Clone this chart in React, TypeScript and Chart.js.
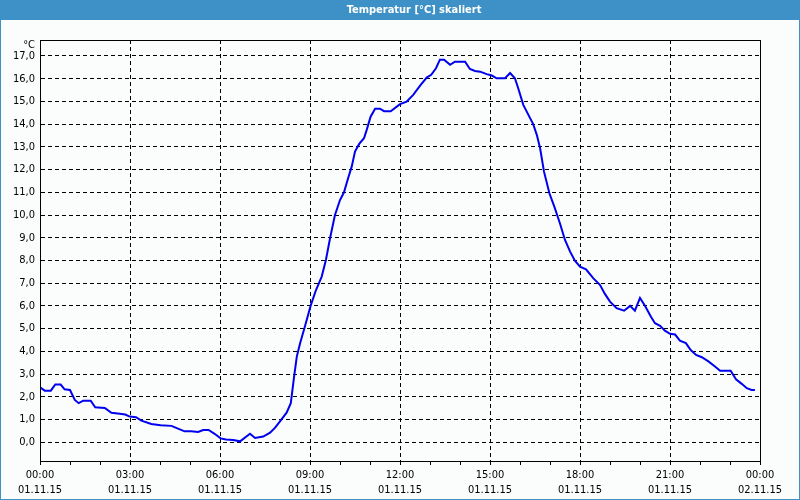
import React, { useEffect, useRef } from 'react';
import { Chart, registerables } from 'chart.js';

Chart.register(...registerables);

// Time of day in hours (01.11.15 00:00 = 0)
const hours = [
  0.0, 0.16, 0.36, 0.51, 0.69, 0.82, 1.0, 1.16, 1.29, 1.44, 1.69, 1.84, 2.16, 2.38, 2.66, 2.84, 2.99,
  3.2, 3.38, 3.71, 4.02, 4.38, 4.6, 4.82, 5.04, 5.27, 5.44, 5.62, 5.82, 6.02, 6.2, 6.44, 6.67,
  7.0, 7.17, 7.44, 7.67, 7.83, 8.0, 8.22, 8.36, 8.47, 8.56, 8.67, 8.83, 9.02, 9.2, 9.39, 9.53,
  9.67, 9.83, 10.0, 10.13, 10.27, 10.39, 10.5, 10.64, 10.8, 10.89, 11.02, 11.17, 11.33, 11.47,
  11.69, 12.0, 12.22, 12.44, 12.67, 12.89, 13.04, 13.2, 13.33, 13.47, 13.67, 13.83, 14.17, 14.33,
  14.5, 14.67, 14.89, 15.06, 15.22, 15.5, 15.67, 15.83, 15.94, 16.11, 16.28, 16.44, 16.56, 16.67,
  16.8, 16.98, 17.15, 17.33, 17.5, 17.67, 17.83, 18.0, 18.2, 18.44, 18.67, 18.83, 19.0, 19.22,
  19.47, 19.67, 19.83, 20.0, 20.17, 20.36, 20.5, 20.67, 20.83, 21.0, 21.17, 21.33, 21.53, 21.69,
  21.87, 22.06, 22.28, 22.5, 22.67, 23.02, 23.2, 23.39, 23.56, 23.72, 23.83,
];

// Temperature in °C
const temps = [
  2.42, 2.27, 2.27, 2.54, 2.54, 2.33, 2.3, 1.86, 1.72, 1.83, 1.83, 1.54, 1.51, 1.3, 1.25, 1.22, 1.13,
  1.1, 0.95, 0.8, 0.75, 0.72, 0.6, 0.48, 0.48, 0.45, 0.54, 0.54, 0.37, 0.17, 0.12, 0.1, 0.04,
  0.37, 0.19, 0.25, 0.42, 0.63, 0.92, 1.3, 1.72, 2.89, 3.77, 4.36, 5.09, 6.0, 6.7, 7.29, 8.02,
  8.99, 9.99, 10.66, 10.99, 11.62, 12.13, 12.79, 13.13, 13.38, 13.75, 14.33, 14.68, 14.68, 14.57,
  14.57, 14.88, 14.99, 15.29, 15.7, 16.05, 16.17, 16.46, 16.84, 16.84, 16.61, 16.75, 16.75, 16.43,
  16.34, 16.31, 16.2, 16.14, 16.02, 16.02, 16.25, 16.02, 15.58, 14.85, 14.41, 14.0, 13.53, 12.94,
  11.91, 10.96, 10.35, 9.64, 8.9, 8.39, 7.99, 7.73, 7.61, 7.22, 6.92, 6.53, 6.19, 5.9,
  5.79, 6.0, 5.79, 6.35, 6.0, 5.53, 5.24, 5.12, 4.91, 4.77, 4.74, 4.47, 4.36, 4.06,
  3.84, 3.74, 3.56, 3.33, 3.15, 3.15, 2.77, 2.57, 2.38, 2.3, 2.3,
];

const tickHours = [0, 3, 6, 9, 12, 15, 18, 21, 24];
const timeLabels = ['00:00', '03:00', '06:00', '09:00', '12:00', '15:00', '18:00', '21:00', '00:00'];
const dateLabels = ['01.11.15', '01.11.15', '01.11.15', '01.11.15', '01.11.15', '01.11.15', '01.11.15', '01.11.15', '02.11.15'];
const titleText = 'Temperatur [°C] skaliert';
const unitLabel = '°C';
const yMin = -0.826;
const yMax = 17.704;

const FONT = '"DejaVu Sans Condensed", "Liberation Sans", sans-serif';
const BAR = '#3d91c6';
const BG = '#fafdfc';
const LINE = '#0000ee';

const framePlugin = {
  id: 'frame',
  beforeDraw(chart: any) {
    const { ctx, width, height } = chart;
    ctx.save();
    ctx.fillStyle = BG;
    ctx.fillRect(0, 0, width, height);
    ctx.fillStyle = BAR;
    ctx.fillRect(0, 0, width, 20);
    ctx.fillStyle = '#ffffff';
    ctx.font = `bold 11px ${FONT}`;
    ctx.textAlign = 'center';
    ctx.textBaseline = 'middle';
    ctx.fillText(titleText, 414, 10);
    ctx.restore();
  },
  afterDraw(chart: any) {
    const { ctx, chartArea: a, width, height } = chart;
    ctx.save();
    ctx.strokeStyle = '#000';
    ctx.lineWidth = 1;
    ctx.setLineDash([]);
    const l = Math.round(a.left) + 0.5;
    const t = Math.round(a.top) + 0.5;
    const r = Math.round(a.right) + 0.5;
    const b = Math.round(a.bottom) + 0.5;
    ctx.strokeRect(l, t, r - l, b - t);
    ctx.strokeStyle = BAR;
    ctx.strokeRect(0.5, 0.5, width - 1, height - 1);
    ctx.fillStyle = '#000';
    ctx.font = `11px ${FONT}`;
    ctx.textAlign = 'right';
    ctx.textBaseline = 'middle';
    ctx.fillText(unitLabel, 35, 45);
    ctx.restore();
  },
};

export default function App() {
  const ref = useRef<HTMLCanvasElement>(null);

  useEffect(() => {
    if (!ref.current) return;
    const data = hours.map((h, i) => ({ x: h, y: temps[i] }));
    const chart = new Chart(ref.current, {
      type: 'line',
      data: {
        datasets: [
          {
            label: titleText,
            data,
            borderColor: LINE,
            borderWidth: 2,
            pointRadius: 0,
            tension: 0,
            fill: false,
          },
        ],
      },
      options: {
        animation: false,
        responsive: false,
        devicePixelRatio: 1,
        layout: { padding: { left: 0, right: 40, top: 40, bottom: 0 } },
        plugins: {
          legend: { display: false },
          tooltip: { enabled: false },
          title: { display: false },
        },
        scales: {
          x: {
            type: 'linear',
            position: 'bottom',
            min: 0,
            max: 24,
            afterFit: (s: any) => {
              s.height = 39;
            },
            ticks: {
              stepSize: 1,
              autoSkip: false,
              maxRotation: 0,
              minRotation: 0,
              padding: 3,
              color: '#000',
              font: { family: FONT, size: 11, lineHeight: 15 / 11 },
              callback: (v: any) => {
                const i = tickHours.indexOf(Number(v));
                return i >= 0 ? [timeLabels[i], dateLabels[i]] : '';
              },
            },
            grid: {
              color: (c: any) => (c.tick && c.tick.value % 3 === 0 ? '#000' : 'rgba(0,0,0,0)'),
              tickColor: '#000',
              tickLength: 4,
              lineWidth: 1,
            },
            border: { display: true, color: '#000', width: 1, dash: [4, 3] },
          },
          y: {
            type: 'linear',
            position: 'left',
            min: yMin,
            max: yMax,
            afterFit: (s: any) => {
              s.width = 40;
            },
            ticks: {
              stepSize: 1,
              includeBounds: false,
              padding: 5,
              color: '#000',
              font: { family: FONT, size: 11 },
              callback: (v: any) => Number(v).toFixed(1).replace('.', ','),
            },
            grid: { drawTicks: false, color: '#000', lineWidth: 1 },
            border: { display: true, color: '#000', width: 1, dash: [4, 3] },
          },
        },
      },
      plugins: [framePlugin],
    } as any);
    return () => chart.destroy();
  }, []);

  return (
    <div style={{ position: 'fixed', left: 0, top: 0, width: 800, height: 500 }}>
      <canvas ref={ref} width={800} height={500} style={{ display: 'block', width: 800, height: 500 }} />
    </div>
  );
}
